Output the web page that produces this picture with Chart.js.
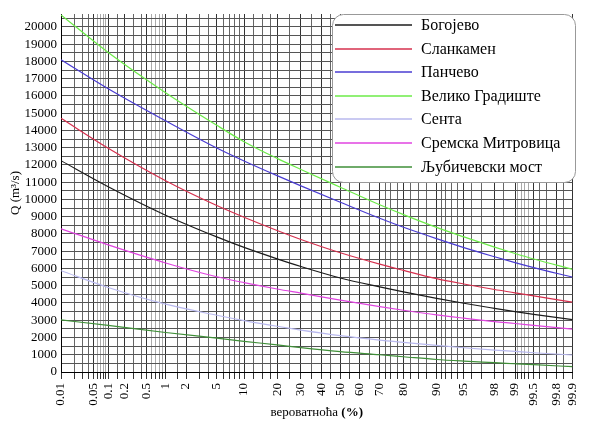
<!DOCTYPE html>
<html>
<head>
<meta charset="utf-8">
<script src="https://cdn.jsdelivr.net/npm/chart.js@4/dist/chart.umd.min.js"></script>
<style>
  body { margin: 0; background: #fff; }
  #wrap { width: 592px; height: 428px; }
</style>
</head>
<body>
<div id="wrap"><canvas id="chart" width="592" height="428"></canvas></div>
<script>
// exceedance probability (%) and discharge Q (m3/s) per station
const probabilities = [0.01, 0.1, 1, 5, 10, 20, 30, 50, 70, 80, 90, 95, 98, 99, 99.5, 99.9];
const bogojevo    = [12250, 10740, 9090, 7830, 7220, 6560, 6115, 5450, 4930, 4640, 4270, 3985, 3690, 3500, 3340, 3040];
const slankamen   = [14700, 12970, 11090, 9650, 8970, 8200, 7680, 6910, 6250, 5890, 5410, 5100, 4780, 4590, 4410, 4050];
const pancevo     = [18100, 16420, 14560, 12980, 12230, 11380, 10790, 9840, 8910, 8390, 7730, 7210, 6680, 6340, 6050, 5500];
const velikoGr    = [20700, 18520, 16190, 14300, 13350, 12380, 11740, 10710, 9690, 9120, 8380, 7830, 7240, 6870, 6550, 5950];
const senta       = [5870, 4900, 3930, 3290, 2980, 2650, 2430, 2110, 1850, 1720, 1540, 1405, 1270, 1190, 1115, 985];
const sremska     = [8300, 7370, 6320, 5520, 5180, 4810, 4570, 4170, 3790, 3580, 3310, 3120, 2920, 2810, 2700, 2480];
const ljubicevski = [3020, 2700, 2290, 1960, 1780, 1570, 1410, 1180, 1000, 885, 725, 630, 540, 478, 422, 310];

const seriesNames = ['Богојево', 'Сланкамен', 'Панчево', 'Велико Градиште', 'Сента', 'Сремска Митровица', 'Љубичевски мост'];
const seriesColors = ['#1c1c1c', '#d6304e', '#4a3cd2', '#6ceb48', '#b8b8ee', '#e044e0', '#3f8f38'];
const seriesValues = [bogojevo, slankamen, pancevo, velikoGr, senta, sremska, ljubicevski];

const labeledTicks = [0.01, 0.05, 0.1, 0.2, 0.5, 1, 2, 5, 10, 20, 30, 40, 50, 60, 70, 80, 90, 95, 98, 99, 99.5, 99.8, 99.9];
const gridTicks = [0.01, 0.02, 0.03, 0.04, 0.05, 0.06, 0.07, 0.08, 0.09, 0.1, 0.15, 0.2, 0.3, 0.4, 0.5, 0.6, 0.7, 0.8, 0.9,
  1, 1.5, 2, 3, 4, 5, 6, 7, 8, 9, 10, 12.5, 15, 17.5, 20, 25, 30, 35, 40, 45, 50, 55, 60, 65, 70, 72.5, 75, 77.5,
  80, 82.5, 85, 87.5, 90, 91, 92, 93, 94, 95, 96, 97, 98, 98.5, 99, 99.1, 99.2, 99.3, 99.4, 99.5, 99.6, 99.7, 99.8, 99.85, 99.9];
const lightTicks = [0.06, 0.07, 0.08, 0.09, 0.6, 0.7, 0.8, 0.9, 99.1, 99.2, 99.3, 99.4];
const yTicks = [];
for (let v = 0; v <= 20500; v += 500) yTicks.push(v);

// inverse standard normal cdf (Acklam)
function probit(p) {
  const a = [-3.969683028665376e+01, 2.209460984245205e+02, -2.759285104469687e+02, 1.383577518672690e+02, -3.066479806614716e+01, 2.506628277459239e+00];
  const b = [-5.447609879822406e+01, 1.615858368580409e+02, -1.556989798598866e+02, 6.680131188771972e+01, -1.328068155288572e+01];
  const c = [-7.784894002430293e-03, -3.223964580411365e-01, -2.400758277161838e+00, -2.549732539343734e+00, 4.374664141464968e+00, 2.938163982698783e+00];
  const d = [7.784695709041462e-03, 3.224671290700398e-01, 2.445134137142996e+00, 3.754408661907416e+00];
  const pl = 0.02425;
  let q, r;
  if (p < pl) {
    q = Math.sqrt(-2 * Math.log(p));
    return (((((c[0]*q+c[1])*q+c[2])*q+c[3])*q+c[4])*q+c[5]) / ((((d[0]*q+d[1])*q+d[2])*q+d[3])*q+1);
  }
  if (p > 1 - pl) {
    q = Math.sqrt(-2 * Math.log(1 - p));
    return -(((((c[0]*q+c[1])*q+c[2])*q+c[3])*q+c[4])*q+c[5]) / ((((d[0]*q+d[1])*q+d[2])*q+d[3])*q+1);
  }
  q = p - 0.5; r = q * q;
  return (((((a[0]*r+a[1])*r+a[2])*r+a[3])*r+a[4])*r+a[5])*q / (((((b[0]*r+b[1])*r+b[2])*r+b[3])*r+b[4])*r+1);
}
function normCdf(z) {
  const t = 1 / (1 + 0.2316419 * Math.abs(z));
  const y = 0.3989423 * Math.exp(-z * z / 2) * t * (0.3193815 + t * (-0.3565638 + t * (1.781478 + t * (-1.821256 + t * 1.330274))));
  return z > 0 ? 1 - y : y;
}

// normal probability paper axis
class ProbitScale extends Chart.Scale {
  static id = 'probit';
  static defaults = {};
  determineDataLimits() {
    this.min = this.options.min;
    this.max = this.options.max;
  }
  buildTicks() {
    return gridTicks.map(v => ({ value: v }));
  }
  getLabelForValue(v) { return String(v); }
  configure() {
    super.configure();
    this._z0 = probit(this.min / 100);
    this._z1 = probit(this.max / 100);
  }
  getPixelForValue(v) {
    if (v == null || isNaN(v)) return NaN;
    return this.getPixelForDecimal((probit(v / 100) - this._z0) / (this._z1 - this._z0));
  }
  getValueForPixel(px) {
    const dec = this.getDecimalForPixel(px);
    return 100 * normCdf(this._z0 + dec * (this._z1 - this._z0));
  }
}
Chart.register(ProbitScale);

const serif = 'Liberation Serif, Times New Roman, serif';

const whiteBg = {
  id: 'whiteBg',
  beforeDraw(chart) {
    const c = chart.ctx;
    c.save(); c.fillStyle = '#fff'; c.fillRect(0, 0, chart.width, chart.height); c.restore();
  }
};

const xTitle = {
  id: 'xTitle',
  afterDraw(chart) {
    const c = chart.ctx, area = chart.chartArea;
    const cx = (area.left + area.right) / 2, y = 413;
    c.save();
    c.fillStyle = '#000';
    c.textBaseline = 'middle';
    c.font = '13px ' + serif;
    const t1 = 'вероватноћа ';
    const w1 = c.measureText(t1).width;
    c.font = 'bold 13px ' + serif;
    const t2 = '(%)';
    const w2 = c.measureText(t2).width;
    const x = cx - (w1 + w2) / 2;
    c.font = '13px ' + serif;
    c.fillText(t1, x, y);
    c.font = 'bold 13px ' + serif;
    c.fillText(t2, x + w1, y);
    c.restore();
  }
};

const boxLegend = {
  id: 'boxLegend',
  afterDraw(chart) {
    const c = chart.ctx;
    const bx = 332, by = 14, bw = 243, bh = 168, r = 11;
    c.save();
    c.beginPath();
    c.roundRect(bx + 0.5, by + 0.5, bw, bh, r);
    c.fillStyle = '#fff';
    c.fill();
    c.strokeStyle = '#999';
    c.lineWidth = 1;
    c.stroke();
    c.font = '16px ' + serif;
    c.textBaseline = 'middle';
    chart.data.datasets.forEach((ds, i) => {
      const y = Math.round(25 + i * 23.6);
      c.strokeStyle = seriesColors[i];
      c.lineWidth = 1.5;
      c.beginPath();
      c.moveTo(335, y);
      c.lineTo(412, y);
      c.stroke();
      c.fillStyle = '#000';
      c.fillText(ds.label, 421, y + 1);
    });
    c.restore();
  }
};

new Chart(document.getElementById('chart'), {
  type: 'line',
  data: {
    datasets: seriesNames.map((name, i) => ({
      label: name,
      data: probabilities.map((p, j) => ({ x: p, y: seriesValues[i][j] })),
      borderColor: seriesColors[i],
      borderWidth: 1.2,
      pointRadius: 0,
      cubicInterpolationMode: 'monotone',
      fill: false
    }))
  },
  options: {
    responsive: false,
    animation: false,
    layout: { padding: { top: 14, right: 3, left: 0, bottom: 0 } },
    plugins: { legend: { display: false }, tooltip: { enabled: false } },
    scales: {
      x: {
        type: 'probit',
        min: 0.01,
        max: 99.9,
        afterFit(scale) { scale.height = 56; },
        border: { display: true, color: '#000', width: 1 },
        grid: {
          color: ctx => labeledTicks.includes(ctx.tick.value) ? '#333'
            : (lightTicks.includes(ctx.tick.value) ? '#aaa' : '#666'),
          tickColor: '#333',
          tickLength: 7,
          drawTicks: true,
          lineWidth: 1
        },
        ticks: {
          autoSkip: false,
          minRotation: 90,
          maxRotation: 90,
          padding: 4,
          color: '#000',
          font: { family: serif, size: 13 },
          callback: v => labeledTicks.includes(v) ? String(v) : ''
        }
      },
      y: {
        type: 'linear',
        min: 0,
        max: 20750,
        afterFit(scale) { scale.width = 61; },
        afterBuildTicks(scale) { scale.ticks = yTicks.map(v => ({ value: v })); },
        border: { display: true, color: '#000', width: 1 },
        grid: { color: '#555', lineWidth: 1, drawTicks: false },
        ticks: {
          autoSkip: false,
          padding: 4,
          color: '#000',
          font: { family: serif, size: 13 },
          callback: v => v % 1000 === 0 ? String(v) : ''
        },
        title: {
          display: true,
          text: 'Q (m³/s)',
          color: '#000',
          font: { family: serif, size: 13 },
          padding: { top: 8, bottom: 0 }
        }
      }
    }
  },
  plugins: [whiteBg, xTitle, boxLegend]
});
</script>
</body>
</html>
